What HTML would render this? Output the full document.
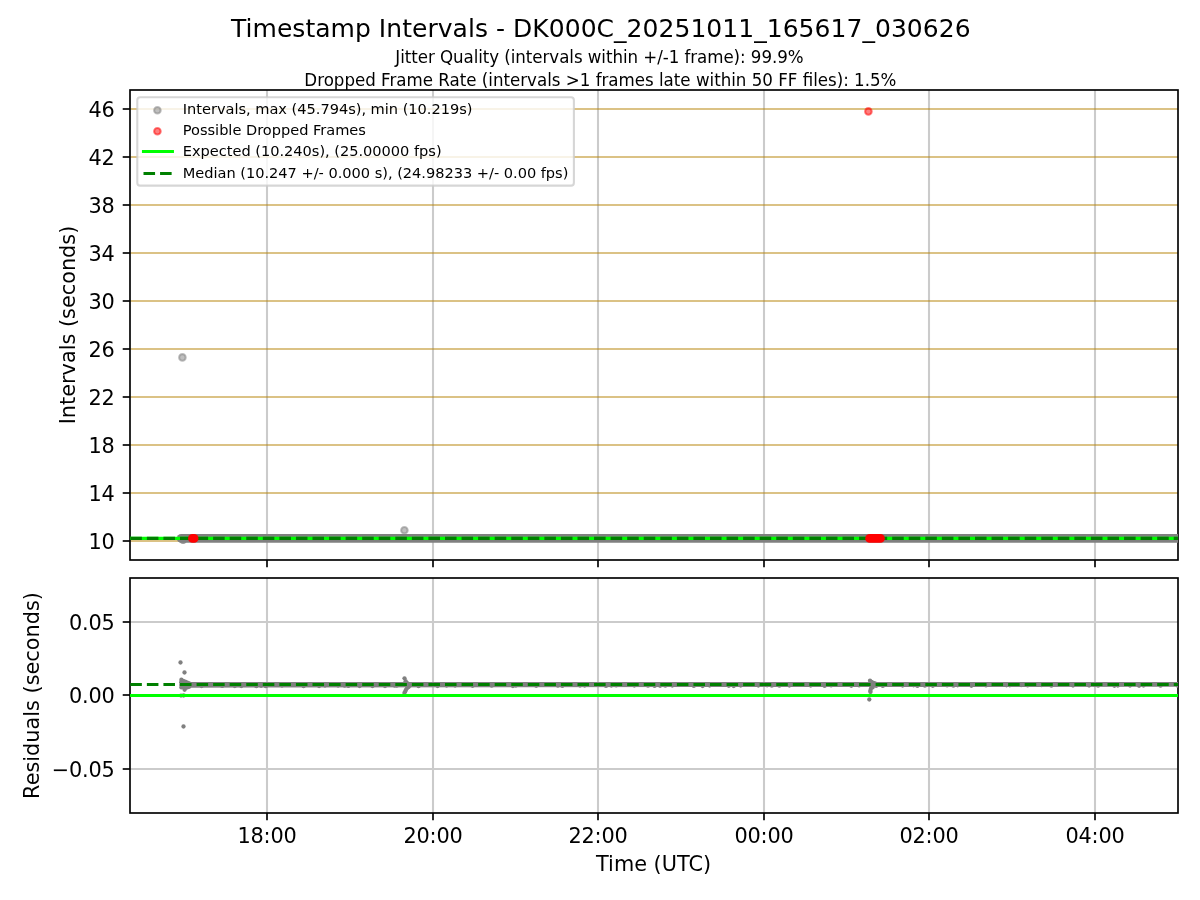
<!DOCTYPE html>
<html lang="en"><head><meta charset="utf-8"><title>Timestamp Intervals - DK000C_20251011_165617_030626</title>
<style>html,body{margin:0;padding:0;background:#fff;}svg{display:block;}text{font-family:'DejaVu Sans','Liberation Sans',sans-serif;fill:#000;}.tk{font-size:20.833px;letter-spacing:-0.2px;}</style>
</head><body>
<svg width="1200" height="900" viewBox="0 0 1200 900">
<rect x="0" y="0" width="1200" height="900" fill="#ffffff"/>
<defs>
<clipPath id="c1"><rect x="130" y="90" width="1048" height="470"/></clipPath>
<clipPath id="c2"><rect x="130" y="578" width="1048" height="235"/></clipPath>
</defs>
<text x="600.8" y="36.7" font-size="25" letter-spacing="0.04" text-anchor="middle">Timestamp Intervals - DK000C_20251011_165617_030626</text>
<text transform="translate(599.4,63.3) scale(1,1.07)" font-size="16.667" letter-spacing="-0.05" text-anchor="middle">Jitter Quality (intervals within +/-1 frame): 99.9%</text>
<text transform="translate(600.4,85.5) scale(1,1.07)" font-size="16.667" text-anchor="middle">Dropped Frame Rate (intervals &gt;1 frames late within 50 FF files): 1.5%</text>
<g clip-path="url(#c1)">
<line x1="267.00" y1="90" x2="267.00" y2="560" stroke="#cbcbcb" stroke-width="2.08"/>
<line x1="433.00" y1="90" x2="433.00" y2="560" stroke="#cbcbcb" stroke-width="2.08"/>
<line x1="598.00" y1="90" x2="598.00" y2="560" stroke="#cbcbcb" stroke-width="2.08"/>
<line x1="764.00" y1="90" x2="764.00" y2="560" stroke="#cbcbcb" stroke-width="2.08"/>
<line x1="929.00" y1="90" x2="929.00" y2="560" stroke="#cbcbcb" stroke-width="2.08"/>
<line x1="1095.00" y1="90" x2="1095.00" y2="560" stroke="#cbcbcb" stroke-width="2.08"/>
<line x1="130" y1="541.00" x2="1178" y2="541.00" stroke="#b8860b" stroke-opacity="0.5" stroke-width="2.08"/>
<line x1="130" y1="493.00" x2="1178" y2="493.00" stroke="#b8860b" stroke-opacity="0.5" stroke-width="2.08"/>
<line x1="130" y1="445.00" x2="1178" y2="445.00" stroke="#b8860b" stroke-opacity="0.5" stroke-width="2.08"/>
<line x1="130" y1="397.00" x2="1178" y2="397.00" stroke="#b8860b" stroke-opacity="0.5" stroke-width="2.08"/>
<line x1="130" y1="349.00" x2="1178" y2="349.00" stroke="#b8860b" stroke-opacity="0.5" stroke-width="2.08"/>
<line x1="130" y1="301.00" x2="1178" y2="301.00" stroke="#b8860b" stroke-opacity="0.5" stroke-width="2.08"/>
<line x1="130" y1="253.00" x2="1178" y2="253.00" stroke="#b8860b" stroke-opacity="0.5" stroke-width="2.08"/>
<line x1="130" y1="205.00" x2="1178" y2="205.00" stroke="#b8860b" stroke-opacity="0.5" stroke-width="2.08"/>
<line x1="130" y1="157.00" x2="1178" y2="157.00" stroke="#b8860b" stroke-opacity="0.5" stroke-width="2.08"/>
<line x1="130" y1="109.00" x2="1178" y2="109.00" stroke="#b8860b" stroke-opacity="0.5" stroke-width="2.08"/>
</g>
<rect x="130" y="90" width="1048" height="470" fill="none" stroke="#000" stroke-width="1.667"/>
<g clip-path="url(#c1)">
<circle cx="183.1" cy="539.7" r="4.2" fill="#9c9c9c"/>
<line x1="181.1" y1="538.40" x2="1190" y2="538.40" stroke="#808080" stroke-width="8.6" stroke-linecap="round"/>
<circle cx="182.40" cy="357.40" r="3.28" fill="#808080" fill-opacity="0.5" stroke="#808080" stroke-opacity="0.5" stroke-width="2.08"/>
<circle cx="404.40" cy="530.30" r="3.28" fill="#808080" fill-opacity="0.5" stroke="#808080" stroke-opacity="0.5" stroke-width="2.08"/>
<line x1="130" y1="538.4" x2="1178" y2="538.4" stroke="#00ff00" stroke-width="3.125"/>
<line x1="130.3" y1="538.4" x2="1178" y2="538.4" stroke="#008000" stroke-width="3.275" stroke-dasharray="11.5625 5.0000"/>
<circle cx="868.40" cy="111.40" r="3.28" fill="#ff0000" fill-opacity="0.5" stroke="#ff0000" stroke-opacity="0.5" stroke-width="2.08"/>
<line x1="192.5" y1="538.4" x2="194.0" y2="538.4" stroke="#ff0000" stroke-width="8.9" stroke-linecap="round"/>
<line x1="869.7" y1="538.4" x2="880.4" y2="538.4" stroke="#ff0000" stroke-width="8.9" stroke-linecap="round"/>
</g>
<rect x="137.3" y="97.3" width="436.6" height="88.3" rx="2.9" ry="2.9" fill="#ffffff" fill-opacity="0.8" stroke="#cccccc" stroke-opacity="0.8" stroke-width="2.08"/>
<circle cx="157.40" cy="110.30" r="3.28" fill="#808080" fill-opacity="0.5" stroke="#808080" stroke-opacity="0.5" stroke-width="2.08"/>
<circle cx="157.40" cy="131.30" r="3.28" fill="#ff0000" fill-opacity="0.5" stroke="#ff0000" stroke-opacity="0.5" stroke-width="2.08"/>
<line x1="143.5" y1="151.45" x2="172.4" y2="151.45" stroke="#00ff00" stroke-width="3.125" stroke-linecap="square"/>
<line x1="143.5" y1="173.45" x2="172.3" y2="173.45" stroke="#008000" stroke-width="3.125" stroke-dasharray="11.5625 5.0000"/>
<text x="182.8" y="113.9" font-size="14.583" letter-spacing="-0.02">Intervals, max (45.794s), min (10.219s)</text>
<text x="182.8" y="134.8" font-size="14.583" letter-spacing="-0.02">Possible Dropped Frames</text>
<text x="182.8" y="155.6" font-size="14.583" letter-spacing="-0.02">Expected (10.240s), (25.00000 fps)</text>
<text x="182.8" y="177.8" font-size="14.583" letter-spacing="-0.02">Median (10.247 +/- 0.000 s), (24.98233 +/- 0.00 fps)</text>
<line x1="267.00" y1="560" x2="267.00" y2="567.29" stroke="#000" stroke-width="1.667"/>
<line x1="433.00" y1="560" x2="433.00" y2="567.29" stroke="#000" stroke-width="1.667"/>
<line x1="598.00" y1="560" x2="598.00" y2="567.29" stroke="#000" stroke-width="1.667"/>
<line x1="764.00" y1="560" x2="764.00" y2="567.29" stroke="#000" stroke-width="1.667"/>
<line x1="929.00" y1="560" x2="929.00" y2="567.29" stroke="#000" stroke-width="1.667"/>
<line x1="1095.00" y1="560" x2="1095.00" y2="567.29" stroke="#000" stroke-width="1.667"/>
<line x1="122.71" y1="541.00" x2="130" y2="541.00" stroke="#000" stroke-width="1.667"/>
<text class="tk" x="114.5" y="548.60" text-anchor="end">10</text>
<line x1="122.71" y1="493.00" x2="130" y2="493.00" stroke="#000" stroke-width="1.667"/>
<text class="tk" x="114.5" y="500.60" text-anchor="end">14</text>
<line x1="122.71" y1="445.00" x2="130" y2="445.00" stroke="#000" stroke-width="1.667"/>
<text class="tk" x="114.5" y="452.60" text-anchor="end">18</text>
<line x1="122.71" y1="397.00" x2="130" y2="397.00" stroke="#000" stroke-width="1.667"/>
<text class="tk" x="114.5" y="404.60" text-anchor="end">22</text>
<line x1="122.71" y1="349.00" x2="130" y2="349.00" stroke="#000" stroke-width="1.667"/>
<text class="tk" x="114.5" y="356.60" text-anchor="end">26</text>
<line x1="122.71" y1="301.00" x2="130" y2="301.00" stroke="#000" stroke-width="1.667"/>
<text class="tk" x="114.5" y="308.60" text-anchor="end">30</text>
<line x1="122.71" y1="253.00" x2="130" y2="253.00" stroke="#000" stroke-width="1.667"/>
<text class="tk" x="114.5" y="260.60" text-anchor="end">34</text>
<line x1="122.71" y1="205.00" x2="130" y2="205.00" stroke="#000" stroke-width="1.667"/>
<text class="tk" x="114.5" y="212.60" text-anchor="end">38</text>
<line x1="122.71" y1="157.00" x2="130" y2="157.00" stroke="#000" stroke-width="1.667"/>
<text class="tk" x="114.5" y="164.60" text-anchor="end">42</text>
<line x1="122.71" y1="109.00" x2="130" y2="109.00" stroke="#000" stroke-width="1.667"/>
<text class="tk" x="114.5" y="116.60" text-anchor="end">46</text>
<text transform="translate(74.9,325) rotate(-90)" font-size="20.833" text-anchor="middle">Intervals (seconds)</text>
<g clip-path="url(#c2)">
<line x1="267.00" y1="578" x2="267.00" y2="813" stroke="#cbcbcb" stroke-width="2.08"/>
<line x1="433.00" y1="578" x2="433.00" y2="813" stroke="#cbcbcb" stroke-width="2.08"/>
<line x1="598.00" y1="578" x2="598.00" y2="813" stroke="#cbcbcb" stroke-width="2.08"/>
<line x1="764.00" y1="578" x2="764.00" y2="813" stroke="#cbcbcb" stroke-width="2.08"/>
<line x1="929.00" y1="578" x2="929.00" y2="813" stroke="#cbcbcb" stroke-width="2.08"/>
<line x1="1095.00" y1="578" x2="1095.00" y2="813" stroke="#cbcbcb" stroke-width="2.08"/>
<line x1="130" y1="622.00" x2="1178" y2="622.00" stroke="#cbcbcb" stroke-width="2.08"/>
<line x1="130" y1="695.00" x2="1178" y2="695.00" stroke="#cbcbcb" stroke-width="2.08"/>
<line x1="130" y1="769.00" x2="1178" y2="769.00" stroke="#cbcbcb" stroke-width="2.08"/>
</g>
<rect x="130" y="578" width="1048" height="235" fill="none" stroke="#000" stroke-width="1.667"/>
<g clip-path="url(#c2)">
<path d="M181.2 682.1 L1190 682.1 L1190 686.8 L700 687.1 L190 687.7 L181.2 687.7 Q178.9 684.9 181.2 682.1 Z" fill="#808080"/>
<circle cx="180.5" cy="662.5" r="2.15" fill="#808080"/>
<circle cx="184.5" cy="672.5" r="2.15" fill="#808080"/>
<circle cx="183.5" cy="726.5" r="2.15" fill="#808080"/>
<circle cx="181.4" cy="679.7" r="2.15" fill="#808080"/>
<circle cx="181.2" cy="682.2" r="2.15" fill="#808080"/>
<circle cx="181.3" cy="685.0" r="2.15" fill="#808080"/>
<circle cx="181.4" cy="687.4" r="2.15" fill="#808080"/>
<circle cx="183.2" cy="681.0" r="2.15" fill="#808080"/>
<circle cx="183.4" cy="684.0" r="2.15" fill="#808080"/>
<circle cx="183.6" cy="687.6" r="2.15" fill="#808080"/>
<circle cx="184.6" cy="689.8" r="2.15" fill="#808080"/>
<circle cx="185.2" cy="681.6" r="2.15" fill="#808080"/>
<circle cx="185.6" cy="687.9" r="2.15" fill="#808080"/>
<circle cx="186.9" cy="682.4" r="2.15" fill="#808080"/>
<circle cx="187.4" cy="687.4" r="2.15" fill="#808080"/>
<circle cx="188.8" cy="683.2" r="2.15" fill="#808080"/>
<circle cx="189.2" cy="686.8" r="2.15" fill="#808080"/>
<circle cx="181.0" cy="695.6" r="2.15" fill="#808080"/>
<circle cx="183.6" cy="695.5" r="2.15" fill="#808080"/>
<circle cx="404.5" cy="678.3" r="2.15" fill="#808080"/>
<circle cx="405.6" cy="681.2" r="2.15" fill="#808080"/>
<circle cx="406.6" cy="682.6" r="2.15" fill="#808080"/>
<circle cx="407.8" cy="683.6" r="2.15" fill="#808080"/>
<circle cx="409.3" cy="684.2" r="2.15" fill="#808080"/>
<circle cx="410.0" cy="685.6" r="2.15" fill="#808080"/>
<circle cx="408.6" cy="687.0" r="2.15" fill="#808080"/>
<circle cx="407.0" cy="688.2" r="2.15" fill="#808080"/>
<circle cx="406.0" cy="689.8" r="2.15" fill="#808080"/>
<circle cx="405.2" cy="691.4" r="2.15" fill="#808080"/>
<circle cx="404.4" cy="693.0" r="2.15" fill="#808080"/>
<circle cx="394.5" cy="685.5" r="2.15" fill="#808080"/>
<circle cx="869.3" cy="699.5" r="2.15" fill="#808080"/>
<circle cx="870.0" cy="680.7" r="2.15" fill="#808080"/>
<circle cx="871.6" cy="682.0" r="2.15" fill="#808080"/>
<circle cx="873.4" cy="682.8" r="2.15" fill="#808080"/>
<circle cx="875.0" cy="683.4" r="2.15" fill="#808080"/>
<circle cx="872.6" cy="687.4" r="2.15" fill="#808080"/>
<circle cx="870.8" cy="689.0" r="2.15" fill="#808080"/>
<circle cx="870.3" cy="691.0" r="2.15" fill="#808080"/>
<circle cx="870.5" cy="692.0" r="2.15" fill="#808080"/>
<circle cx="201.6" cy="686.0" r="2.15" fill="#808080"/>
<circle cx="222.2" cy="685.9" r="2.15" fill="#808080"/>
<circle cx="234.8" cy="686.0" r="2.15" fill="#808080"/>
<circle cx="241.3" cy="686.0" r="2.15" fill="#808080"/>
<circle cx="256.3" cy="686.2" r="2.15" fill="#808080"/>
<circle cx="261.1" cy="685.8" r="2.15" fill="#808080"/>
<circle cx="265.8" cy="686.2" r="2.15" fill="#808080"/>
<circle cx="282.0" cy="685.6" r="2.15" fill="#808080"/>
<circle cx="303.6" cy="686.2" r="2.15" fill="#808080"/>
<circle cx="319.1" cy="686.0" r="2.15" fill="#808080"/>
<circle cx="325.0" cy="685.6" r="2.15" fill="#808080"/>
<circle cx="338.1" cy="685.6" r="2.15" fill="#808080"/>
<circle cx="344.7" cy="685.7" r="2.15" fill="#808080"/>
<circle cx="348.3" cy="685.9" r="2.15" fill="#808080"/>
<circle cx="359.6" cy="686.1" r="2.15" fill="#808080"/>
<circle cx="372.5" cy="686.0" r="2.15" fill="#808080"/>
<circle cx="385.0" cy="686.0" r="2.15" fill="#808080"/>
<circle cx="396.7" cy="685.7" r="2.15" fill="#808080"/>
<circle cx="418.6" cy="686.2" r="2.15" fill="#808080"/>
<circle cx="437.6" cy="686.0" r="2.15" fill="#808080"/>
<circle cx="446.6" cy="685.6" r="2.15" fill="#808080"/>
<circle cx="455.1" cy="685.5" r="2.15" fill="#808080"/>
<circle cx="472.6" cy="685.8" r="2.15" fill="#808080"/>
<circle cx="491.7" cy="685.7" r="2.15" fill="#808080"/>
<circle cx="512.9" cy="686.0" r="2.15" fill="#808080"/>
<circle cx="515.9" cy="685.6" r="2.15" fill="#808080"/>
<circle cx="536.2" cy="685.8" r="2.15" fill="#808080"/>
<circle cx="557.9" cy="685.7" r="2.15" fill="#808080"/>
<circle cx="562.3" cy="685.9" r="2.15" fill="#808080"/>
<circle cx="580.0" cy="685.6" r="2.15" fill="#808080"/>
<circle cx="584.7" cy="685.6" r="2.15" fill="#808080"/>
<circle cx="606.0" cy="685.9" r="2.15" fill="#808080"/>
<circle cx="611.3" cy="685.6" r="2.15" fill="#808080"/>
<circle cx="616.2" cy="685.4" r="2.15" fill="#808080"/>
<circle cx="634.3" cy="685.5" r="2.15" fill="#808080"/>
<circle cx="648.0" cy="685.7" r="2.15" fill="#808080"/>
<circle cx="654.6" cy="685.9" r="2.15" fill="#808080"/>
<circle cx="660.1" cy="685.8" r="2.15" fill="#808080"/>
<circle cx="665.3" cy="685.7" r="2.15" fill="#808080"/>
<circle cx="672.3" cy="685.5" r="2.15" fill="#808080"/>
<circle cx="693.8" cy="685.9" r="2.15" fill="#808080"/>
<circle cx="702.6" cy="686.0" r="2.15" fill="#808080"/>
<circle cx="709.6" cy="685.6" r="2.15" fill="#808080"/>
<circle cx="728.8" cy="685.8" r="2.15" fill="#808080"/>
<circle cx="733.7" cy="686.0" r="2.15" fill="#808080"/>
<circle cx="740.7" cy="685.5" r="2.15" fill="#808080"/>
<circle cx="758.4" cy="685.5" r="2.15" fill="#808080"/>
<circle cx="767.1" cy="685.3" r="2.15" fill="#808080"/>
<circle cx="771.8" cy="685.7" r="2.15" fill="#808080"/>
<circle cx="779.4" cy="685.7" r="2.15" fill="#808080"/>
<circle cx="789.4" cy="685.6" r="2.15" fill="#808080"/>
<circle cx="810.7" cy="685.6" r="2.15" fill="#808080"/>
<circle cx="824.6" cy="685.9" r="2.15" fill="#808080"/>
<circle cx="831.1" cy="685.4" r="2.15" fill="#808080"/>
<circle cx="851.3" cy="685.8" r="2.15" fill="#808080"/>
<circle cx="859.1" cy="685.4" r="2.15" fill="#808080"/>
<circle cx="876.1" cy="685.9" r="2.15" fill="#808080"/>
<circle cx="882.8" cy="685.9" r="2.15" fill="#808080"/>
<circle cx="902.6" cy="685.6" r="2.15" fill="#808080"/>
<circle cx="913.6" cy="685.3" r="2.15" fill="#808080"/>
<circle cx="917.4" cy="685.9" r="2.15" fill="#808080"/>
<circle cx="924.9" cy="685.7" r="2.15" fill="#808080"/>
<circle cx="932.8" cy="685.8" r="2.15" fill="#808080"/>
<circle cx="947.1" cy="685.4" r="2.15" fill="#808080"/>
<circle cx="953.4" cy="685.7" r="2.15" fill="#808080"/>
<circle cx="957.7" cy="685.3" r="2.15" fill="#808080"/>
<circle cx="971.4" cy="685.8" r="2.15" fill="#808080"/>
<circle cx="986.0" cy="685.4" r="2.15" fill="#808080"/>
<circle cx="1006.5" cy="685.3" r="2.15" fill="#808080"/>
<circle cx="1009.8" cy="685.3" r="2.15" fill="#808080"/>
<circle cx="1021.2" cy="685.2" r="2.15" fill="#808080"/>
<circle cx="1027.6" cy="685.4" r="2.15" fill="#808080"/>
<circle cx="1041.5" cy="685.2" r="2.15" fill="#808080"/>
<circle cx="1051.4" cy="685.7" r="2.15" fill="#808080"/>
<circle cx="1073.0" cy="685.6" r="2.15" fill="#808080"/>
<circle cx="1089.1" cy="685.5" r="2.15" fill="#808080"/>
<circle cx="1094.8" cy="685.1" r="2.15" fill="#808080"/>
<circle cx="1098.1" cy="685.7" r="2.15" fill="#808080"/>
<circle cx="1114.4" cy="685.8" r="2.15" fill="#808080"/>
<circle cx="1117.8" cy="685.5" r="2.15" fill="#808080"/>
<circle cx="1130.0" cy="685.6" r="2.15" fill="#808080"/>
<circle cx="1139.1" cy="685.8" r="2.15" fill="#808080"/>
<circle cx="1143.5" cy="685.5" r="2.15" fill="#808080"/>
<circle cx="1160.5" cy="685.7" r="2.15" fill="#808080"/>
<circle cx="1177.5" cy="685.5" r="2.15" fill="#808080"/>
<line x1="130" y1="695.5" x2="1178" y2="695.5" stroke="#00ff00" stroke-width="3.125"/>
<line x1="130.3" y1="684.5" x2="1178" y2="684.5" stroke="#008000" stroke-width="3.125" stroke-dasharray="11.5625 5.0000"/>
</g>
<line x1="267.00" y1="813" x2="267.00" y2="820.29" stroke="#000" stroke-width="1.667"/>
<text class="tk" x="267.00" y="843" text-anchor="middle">18:00</text>
<line x1="433.00" y1="813" x2="433.00" y2="820.29" stroke="#000" stroke-width="1.667"/>
<text class="tk" x="433.00" y="843" text-anchor="middle">20:00</text>
<line x1="598.00" y1="813" x2="598.00" y2="820.29" stroke="#000" stroke-width="1.667"/>
<text class="tk" x="598.00" y="843" text-anchor="middle">22:00</text>
<line x1="764.00" y1="813" x2="764.00" y2="820.29" stroke="#000" stroke-width="1.667"/>
<text class="tk" x="764.00" y="843" text-anchor="middle">00:00</text>
<line x1="929.00" y1="813" x2="929.00" y2="820.29" stroke="#000" stroke-width="1.667"/>
<text class="tk" x="929.00" y="843" text-anchor="middle">02:00</text>
<line x1="1095.00" y1="813" x2="1095.00" y2="820.29" stroke="#000" stroke-width="1.667"/>
<text class="tk" x="1095.00" y="843" text-anchor="middle">04:00</text>
<line x1="122.71" y1="622.00" x2="130" y2="622.00" stroke="#000" stroke-width="1.667"/>
<text class="tk" x="114.5" y="629.60" text-anchor="end">0.05</text>
<line x1="122.71" y1="695.00" x2="130" y2="695.00" stroke="#000" stroke-width="1.667"/>
<text class="tk" x="114.5" y="702.60" text-anchor="end">0.00</text>
<line x1="122.71" y1="769.00" x2="130" y2="769.00" stroke="#000" stroke-width="1.667"/>
<text class="tk" x="114.5" y="776.60" text-anchor="end">−0.05</text>
<text transform="translate(38.6,695.5) rotate(-90)" font-size="20.833" text-anchor="middle">Residuals (seconds)</text>
<text x="653.6" y="871.4" font-size="20.833" text-anchor="middle">Time (UTC)</text>
</svg>
</body></html>
